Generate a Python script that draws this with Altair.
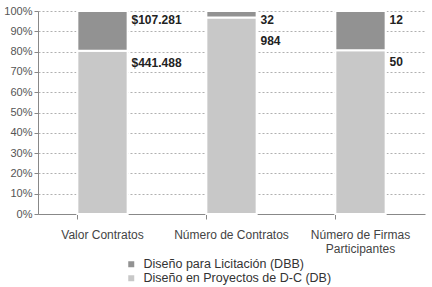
import altair as alt
import pandas as pd

categories = ["Valor Contratos", "Número de Contratos", "Número de Firmas Participantes"]
series = ["Diseño para Licitación (DBB)", "Diseño en Proyectos de D-C (DB)"]
dbb_values = [107.281, 32, 12]
db_values = [441.488, 984, 50]
dbb_labels = ["$107.281", "32", "12"]
db_labels = ["$441.488", "984", "50"]
colors = ["#929292", "#c8c8c8"]

rows = []
for i, c in enumerate(categories):
    total = dbb_values[i] + db_values[i]
    db_pct = db_values[i] / total * 100
    dbb_pct = dbb_values[i] / total * 100
    rows.append({"cat": c, "series": series[1], "pct": db_pct, "order": 0,
                 "label": db_labels[i], "label_y": min(db_pct - 6, 85)})
    rows.append({"cat": c, "series": series[0], "pct": dbb_pct, "order": 1,
                 "label": dbb_labels[i], "label_y": 95.5})
df = pd.DataFrame(rows)

font = "Liberation Sans"

xscale = alt.Scale(domain=categories, paddingInner=0.61, paddingOuter=0.305)
yscale = alt.Scale(domain=[0, 100], nice=False)

xaxis = alt.Axis(labelAngle=0, labelFontSize=12, labelColor="#444",
                 labelFont=font, labelPadding=10, labelLineHeight=14,
                 domainColor="#888", tickColor="#888", tickSize=5,
                 bandPosition=0, grid=False, labelLimit=0,
                 labelExpr="datum.value == 'Número de Firmas Participantes' ? ['Número de Firmas', 'Participantes'] : datum.value")
yaxis = alt.Axis(values=list(range(0, 101, 10)), labelExpr="datum.value + '%'",
                 labelFontSize=11, labelColor="#555", labelFont=font,
                 domainColor="#888", tickColor="#888", tickSize=4,
                 gridColor="#b0b0b0", gridDash=[2, 2], gridWidth=1)

bars = alt.Chart(df).mark_bar(stroke="white", strokeWidth=2).encode(
    x=alt.X("cat:N", sort=categories, title=None, scale=xscale, axis=xaxis),
    y=alt.Y("pct:Q", stack="zero", title=None, scale=yscale, axis=yaxis),
    color=alt.Color("series:N", scale=alt.Scale(domain=series, range=colors),
                    legend=alt.Legend(title=None, orient="none", legendX=87, legendY=247,
                                      symbolType="square", symbolSize=36,
                                      symbolStrokeWidth=0, labelLimit=0,
                                      labelFontSize=12.5, labelColor="#333", labelFont=font,
                                      rowPadding=1, labelOffset=6)),
    order=alt.Order("order:Q"),
)

labels = alt.Chart(df).mark_text(align="left", baseline="middle", dx=29,
                                 fontWeight="bold", fontSize=12, font=font,
                                 color="#222").encode(
    x=alt.X("cat:N", sort=categories, title=None, scale=xscale, axis=xaxis),
    y=alt.Y("label_y:Q", title=None, scale=yscale, axis=yaxis),
    text="label:N",
)

chart = alt.layer(bars, labels).properties(
    width=387, height=203,
    padding={"left": 38, "top": 11, "right": 7, "bottom": 73},
    autosize=alt.AutoSizeParams(type="none"),
    background="white",
).configure_view(stroke=None)

chart.save("out.html", embed_options={"renderer": "svg", "actions": False})
